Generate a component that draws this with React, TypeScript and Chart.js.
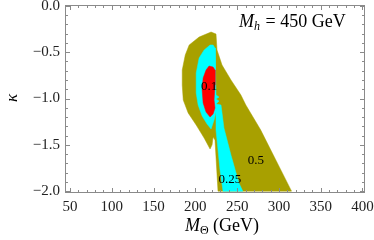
import React, { useEffect, useRef } from "react";
import { Chart, registerables } from "chart.js";
Chart.register(...registerables);

// Axis ticks
const xTicks = [50, 100, 150, 200, 250, 300, 350, 400];
const yTicks = [0, -0.5, -1.0, -1.5, -2.0];
const xMinorStep = 10;
const yMinorStep = 0.1;

// Region boundaries (M_Theta in GeV, kappa)
const oliveM = [218.8, 224.7, 225.9, 231.9, 242.6, 254.5, 260.4, 278.2, 315.1, 227.1, 223.5, 221.2, 220.0, 217.6, 210.5, 201.0, 191.4, 185.5, 184.3, 184.3, 187.9, 192.6, 204.5, 218.8];
const oliveK = [-0.282, -0.303, -0.476, -0.638, -0.8, -0.962, -1.07, -1.34, -2.0, -2.0, -1.448, -1.416, -1.5, -1.545, -1.426, -1.286, -1.156, -1.016, -0.854, -0.692, -0.53, -0.422, -0.336, -0.282];

const cyanM = [217.6, 221.2, 223.5, 224.1, 224.7, 228.3, 224.7, 228.3, 224.7, 230.7, 234.2, 242.6, 252.1, 256.8, 233.1, 229.5, 227.1, 224.7, 224.7, 222.4, 218.8, 214.0, 208.1, 203.3, 201.0, 201.0, 204.5, 210.5, 217.6];
const cyanK = [-0.422, -0.422, -0.454, -0.692, -0.962, -0.984, -1.005, -1.027, -1.059, -1.07, -1.318, -1.61, -1.912, -2.0, -2.0, -1.772, -1.556, -1.34, -1.146, -1.232, -1.329, -1.275, -1.189, -1.07, -0.94, -0.724, -0.562, -0.476, -0.422];

const redM = [216.4, 221.2, 223.5, 223.5, 222.4, 223.5, 221.2, 217.6, 212.8, 209.3, 208.1, 209.3, 212.8, 216.4];
const redK = [-0.649, -0.66, -0.692, -0.854, -1.016, -1.102, -1.167, -1.2, -1.146, -1.048, -0.908, -0.778, -0.692, -0.649];

// Contour labels
const contourLabels = ["0.1", "0.25", "0.5"];
const labelM = [216.4, 241.4, 272.3];
const labelK = [-0.876, -1.88, -1.675];

const OLIVE = "rgb(168,160,0)";
const CYAN = "rgb(0,255,255)";
const RED = "rgb(255,0,0)";
const SERIF = '"Liberation Serif", "DejaVu Serif", serif';

const toPts = (ms: number[], ks: number[]) => ms.map((m, i) => ({ x: m, y: ks[i] }));

const zeroPad = (s: any) => {
  s.paddingTop = 0;
  s.paddingBottom = 0;
  s.paddingLeft = 0;
  s.paddingRight = 0;
};

const framePlugin = {
  id: "framePlugin",
  afterDatasetsDraw(chart: any) {
    const { ctx, chartArea: a, scales } = chart;
    const x = scales.x, y = scales.y;
    ctx.save();
    // contour labels
    ctx.fillStyle = "#000";
    ctx.font = `13px ${SERIF}`;
    ctx.textAlign = "center";
    ctx.textBaseline = "middle";
    contourLabels.forEach((t, i) => {
      ctx.fillText(t, x.getPixelForValue(labelM[i]), y.getPixelForValue(labelK[i]));
    });
    // frame
    ctx.strokeStyle = "#8a8a8a";
    ctx.lineWidth = 1;
    ctx.strokeRect(a.left + 0.5, a.top + 0.5, a.right - a.left - 1, a.bottom - a.top - 1);
    ctx.beginPath();
    for (let v = xTicks[0]; v <= xTicks[xTicks.length - 1] + 1e-6; v += xMinorStep) {
      const major = xTicks.some((t) => Math.abs(t - v) < 1e-6);
      const len = major ? 5 : 3;
      const px = Math.round(x.getPixelForValue(v)) + 0.5;
      ctx.moveTo(px, a.bottom);
      ctx.lineTo(px, a.bottom - len);
      ctx.moveTo(px, a.top);
      ctx.lineTo(px, a.top + len);
    }
    for (let v = yTicks[yTicks.length - 1]; v <= yTicks[0] + 1e-6; v += yMinorStep) {
      const major = yTicks.some((t) => Math.abs(t - v) < 1e-6);
      const len = major ? 5 : 3;
      const py = Math.round(y.getPixelForValue(v)) + 0.5;
      ctx.moveTo(a.left, py);
      ctx.lineTo(a.left + len, py);
      ctx.moveTo(a.right, py);
      ctx.lineTo(a.right - len, py);
    }
    ctx.stroke();
    ctx.restore();
  },
  afterDraw(chart: any) {
    const { ctx, chartArea: a } = chart;
    ctx.save();
    ctx.fillStyle = "#000";
    ctx.textBaseline = "alphabetic";
    ctx.textAlign = "left";
    // M_h = 450 GeV
    let cx = 239;
    const by = 27;
    ctx.font = `italic 18px ${SERIF}`;
    ctx.fillText("M", cx, by);
    cx += ctx.measureText("M").width;
    ctx.font = `italic 12px ${SERIF}`;
    ctx.fillText("h", cx, by + 3);
    cx += ctx.measureText("h").width + 1;
    ctx.font = `18px ${SERIF}`;
    ctx.fillText(" = 450 GeV", cx, by);

    // x title
    ctx.font = `italic 18px ${SERIF}`;
    const wM = ctx.measureText("M").width;
    ctx.font = `12px ${SERIF}`;
    const wT = ctx.measureText("Θ").width;
    ctx.font = `18px ${SERIF}`;
    const wR = ctx.measureText(" (GeV)").width;
    const total = wM + wT + wR;
    let tx = 222 - total / 2;
    const ty = 231;
    ctx.font = `italic 18px ${SERIF}`;
    ctx.fillText("M", tx, ty);
    tx += wM;
    ctx.font = `12px ${SERIF}`;
    ctx.fillText("Θ", tx, ty + 3);
    tx += wT;
    ctx.font = `18px ${SERIF}`;
    ctx.fillText(" (GeV)", tx, ty);

    // y title
    ctx.translate(13, 98);
    ctx.rotate(-Math.PI / 2);
    ctx.textAlign = "center";
    ctx.textBaseline = "middle";
    ctx.font = `italic 17px ${SERIF}`;
    ctx.fillText("κ", 0, 0);
    ctx.restore();
  },
};

export default function App() {
  const ref = useRef<HTMLCanvasElement>(null);
  useEffect(() => {
    if (!ref.current) return;
    const chart = new Chart(ref.current, {
      type: "line",
      data: {
        datasets: [
          { label: "0.1", data: toPts(redM, redK), backgroundColor: RED, borderColor: RED, borderWidth: 0.5, fill: "shape", pointRadius: 0, tension: 0 },
          { label: "0.25", data: toPts(cyanM, cyanK), backgroundColor: CYAN, borderColor: CYAN, borderWidth: 0.5, fill: "shape", pointRadius: 0, tension: 0 },
          { label: "0.5", data: toPts(oliveM, oliveK), backgroundColor: OLIVE, borderColor: OLIVE, borderWidth: 0.5, fill: "shape", pointRadius: 0, tension: 0 },
        ],
      },
      options: {
        responsive: false,
        animation: false,
        devicePixelRatio: 1,
        layout: { autoPadding: false, padding: { top: 5, right: 9, left: 0, bottom: 0 } },
        plugins: { legend: { display: false }, tooltip: { enabled: false } },
        scales: {
          x: {
            type: "linear",
            min: 44,
            max: 403,
            grid: { display: false, drawTicks: false },
            border: { display: false },
            afterBuildTicks: (s: any) => { s.ticks = xTicks.map((v) => ({ value: v })); },
            afterFit: (s: any) => { s.height = 47; zeroPad(s); },
            ticks: {
              autoSkip: false,
              maxRotation: 0,
              padding: 5,
              color: "#222",
              font: { family: SERIF, size: 15 },
              callback: (v: any) => String(v),
            },
          },
          y: {
            type: "linear",
            min: -2.02,
            max: 0.01,
            grid: { display: false, drawTicks: false },
            border: { display: false },
            afterBuildTicks: (s: any) => { s.ticks = yTicks.map((v) => ({ value: v })); },
            afterFit: (s: any) => { s.width = 65; zeroPad(s); },
            ticks: {
              autoSkip: false,
              padding: 5,
              color: "#222",
              font: { family: SERIF, size: 15 },
              callback: (v: any) => (Math.abs(v) < 1e-9 ? "0.0" : "\u2212" + Math.abs(v).toFixed(1)),
            },
          },
        },
      },
      plugins: [framePlugin],
    });
    return () => chart.destroy();
  }, []);
  return (
    <div style={{ position: "absolute", left: 0, top: 0, width: 374, height: 240 }}>
      <canvas ref={ref} width={374} height={240} style={{ width: 374, height: 240 }} />
    </div>
  );
}
